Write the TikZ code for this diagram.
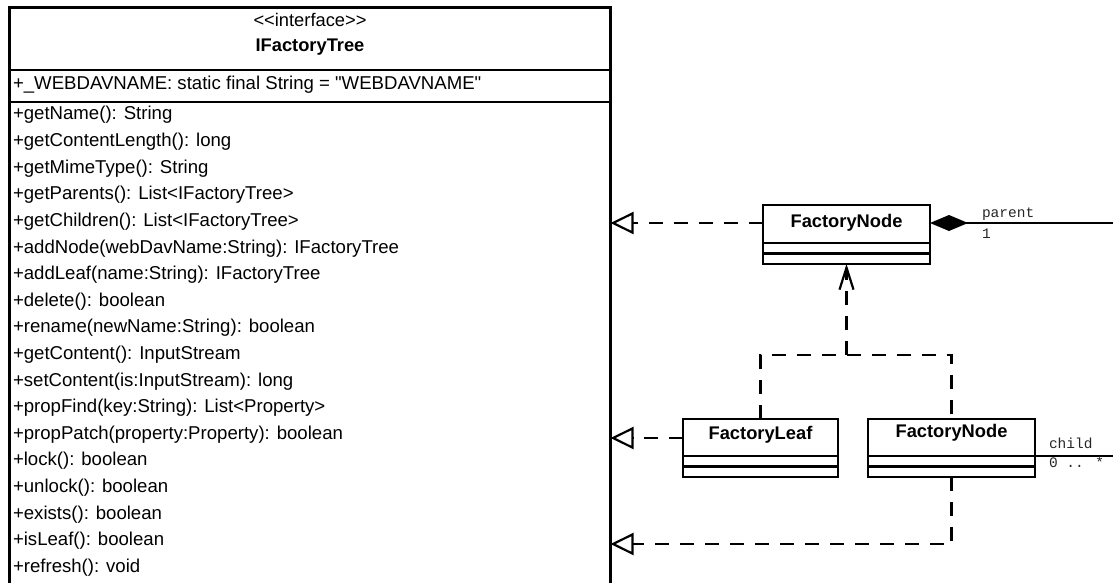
\documentclass[tikz,border=0pt]{standalone}
\usepackage{fontspec}
\newfontfamily\sansf{Liberation Sans}
\newfontfamily\monof{Liberation Mono}
\usetikzlibrary{arrows.meta}
\begin{document}
\begin{tikzpicture}[x=1pt,y=-1pt,
  every node/.style={inner sep=0pt, outer sep=0pt},
  lw/.style={line width=2.6pt},
  umlbox/.style={draw, lw, rectangle, anchor=north west, inner sep=0pt},
  txt/.style={font=\sansf\fontsize{18.6}{22}\selectfont, anchor=base west},
  ctxt/.style={font=\sansf\fontsize{18.3}{22}\selectfont, anchor=base},
  bname/.style={font=\sansf\fontsize{18.3}{22}\selectfont\bfseries, anchor=base},
  lbl/.style={font=\monof\fontsize{14.5}{16}\selectfont, anchor=base west, text=black!85},
  dsh/.style={lw, dash pattern=on 14pt off 11pt},
  real/.style={dsh, -{Triangle[open, length=23pt, width=22pt, line width=2.2pt]}},
  dep/.style={dsh, -{Straight Barb[length=22pt, width=14pt, line width=2.2pt]}}
]
\useasboundingbox (0,0) rectangle (1113,583);
\clip (0,0) rectangle (1113,583);

% interface box
\node[umlbox, minimum width=601pt, minimum height=620pt] (tree) at (9.5,7.5) {};
\draw[lw] (9.5,70) -- (610.5,70);
\draw[lw] (9.5,102) -- (610.5,102);
\node[ctxt] (stereo) at (310,27) {<<interface>>};
\node[bname] (tname) at (310,52) {IFactoryTree};
\node[txt] (attr) at (13,90) {+\_WEBDAVNAME: static final String = "WEBDAVNAME"};
\foreach \t [count=\i from 0] in {
  +getName(): String,
  +getContentLength(): long,
  +getMimeType(): String,
  +getParents(): List<IFactoryTree>,
  +getChildren(): List<IFactoryTree>,
  +addNode(webDavName:String): IFactoryTree,
  +addLeaf(name:String): IFactoryTree,
  +delete(): boolean,
  +rename(newName:String): boolean,
  +getContent(): InputStream,
  +setContent(is:InputStream): long,
  +propFind(key:String): List<Property>,
  +propPatch(property:Property): boolean,
  +lock(): boolean,
  +unlock(): boolean,
  +exists(): boolean,
  +isLeaf(): boolean,
  +refresh(): void}
  \node[txt] (m\i) at (13,120+26.6*\i) {\t};

% FactoryNode (top)
\node[umlbox, minimum width=167pt, minimum height=59pt] (fn1) at (763,205) {};
\node[bname] (fn1name) at (846.5,227) {FactoryNode};
\draw[lw] (763,243) -- (930,243);
\draw[lw] (763,253.3) -- (930,253.3);

% FactoryLeaf
\node[umlbox, minimum width=155pt, minimum height=58pt] (leaf) at (683,419) {};
\node[bname] (leafname) at (760.5,439) {FactoryLeaf};
\draw[lw] (683,456) -- (838,456);
\draw[lw] (683,466.5) -- (838,466.5);

% FactoryNode (bottom)
\node[umlbox, minimum width=167pt, minimum height=58pt] (fn2) at (868,419) {};
\node[bname] (fn2name) at (951.5,437) {FactoryNode};
\draw[lw] (868,456) -- (1035,456);
\draw[lw] (868,466.5) -- (1035,466.5);

% realizations
\coordinate (a1) at (763,223);
\draw[real] (a1) -- (a1 -| tree.east);
\coordinate (a2) at (683,438);
\draw[real] (a2) -- (a2 -| tree.east);
\coordinate (a3) at (951.5,544);
\draw[real] (fn2.south) -- (a3) -- (a3 -| tree.east);

% dependency to top FactoryNode
\coordinate (j) at (846.5,355);
\draw[dsh] (leaf.north) |- (j) -| (fn2.north);
\draw[dep] (j) -- (fn1.south);

% composition
\coordinate (pout) at (1113,223);
\draw[lw, {Diamond[length=38pt, width=16pt]}-] (fn1.east |- pout) -- (pout);
\node[lbl] (plbl) at (982,217) {parent};
\node[lbl] (pmul) at (982,238) {1};

\coordinate (cout) at (1113,456);
\draw[lw] (fn2.east |- cout) -- (cout);
\node[lbl] (clbl) at (1049,448) {child};
\node[lbl] (cmul) at (1049,467) {0 .. *};
\end{tikzpicture}
\end{document}
